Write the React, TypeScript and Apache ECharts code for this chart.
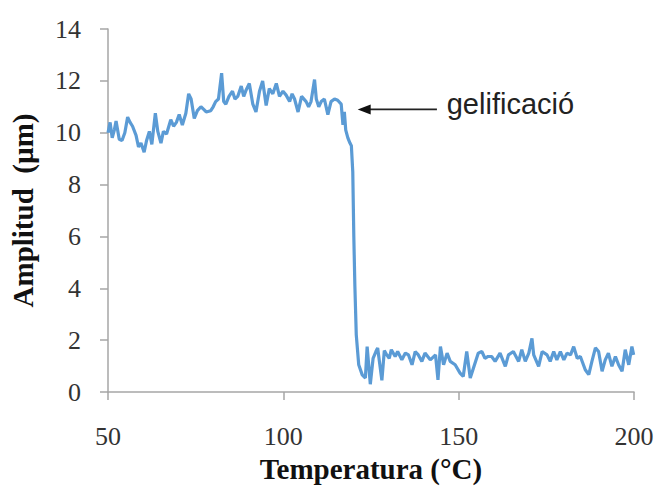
import React, { useEffect, useRef } from "react";
import * as echarts from "echarts";

// Rheometer sweep: oscillation amplitude versus temperature
const temperature = [
  50.0, 50.6, 51.2, 51.8, 52.3, 53.2, 54.0, 54.8, 55.6, 56.3, 57.0, 58.0, 58.7, 59.4, 60.3, 61.0,
  61.8, 62.5, 63.5, 64.2, 65.1, 65.8, 66.7, 67.9, 68.7, 69.5, 70.3, 71.2, 72.2, 73.0, 73.7, 74.6,
  75.5, 76.5, 77.3, 78.0, 79.3, 80.0, 80.7, 81.5, 82.4, 83.0, 83.6, 84.5, 85.5, 86.2, 87.0, 88.0,
  88.7, 89.4, 90.3, 91.3, 92.2, 93.2, 94.1, 95.1, 96.0, 97.0, 98.0, 98.9, 99.9, 100.8, 101.8, 102.5,
  103.2, 104.2, 105.2, 106.5, 107.2, 107.9, 108.9, 109.4, 110.1, 110.8, 111.7, 112.7, 113.6, 114.6,
  115.5, 116.5, 117.0, 117.4, 117.8, 118.4, 119.0, 119.4, 119.8, 120.1, 120.4, 120.8, 121.5, 122.5,
  123.4, 123.9, 124.8, 125.6, 126.4, 126.9, 128.1, 128.8, 129.5, 130.2, 130.8, 131.9, 132.6, 133.8,
  134.8, 135.7, 136.7, 137.6, 138.5, 139.5, 140.4, 141.9, 143.4, 144.1, 144.8, 145.7, 146.7, 147.6,
  149.0, 150.4, 151.3, 152.3, 153.3, 154.2, 155.6, 156.6, 157.5, 158.4, 159.4, 160.4, 161.8, 163.3,
  164.2, 165.6, 167.1, 168.0, 169.0, 170.0, 170.9, 171.4, 172.8, 173.8, 175.2, 176.1, 177.1, 178.0,
  179.0, 180.0, 180.9, 181.9, 182.8, 183.8, 184.7, 186.1, 187.1, 188.0, 189.0, 189.9, 190.9, 191.8,
  192.7, 193.7, 194.7, 195.6, 196.6, 197.5, 198.5, 199.4, 199.9,
];

const amplitude = [
  10.0, 10.4, 9.8, 10.1, 10.45, 9.75, 9.7, 10.0, 10.6, 10.4, 10.25, 9.9, 9.45, 9.6, 9.25, 9.7,
  10.05, 9.55, 10.75, 10.05, 9.6, 10.05, 9.95, 10.5, 10.25, 10.4, 10.7, 10.3, 10.75, 11.5, 11.3, 10.55,
  10.85, 11.0, 10.9, 10.8, 10.85, 11.0, 11.2, 11.3, 12.3, 11.2, 11.1, 11.4, 11.6, 11.3, 11.4, 11.8,
  11.4, 11.65, 11.9, 11.1, 10.8, 11.6, 12.0, 11.05, 11.7, 11.5, 11.9, 11.4, 11.6, 11.45, 11.2, 11.5,
  11.3, 10.8, 11.4, 11.2, 11.0, 11.2, 12.05, 11.3, 11.0, 11.2, 11.3, 10.7, 11.2, 11.3,
  11.25, 11.1, 10.3, 10.8, 10.1, 9.8, 9.6, 9.5, 8.5, 6.0, 4.1, 2.2, 1.05, 0.66,
  0.54, 1.75, 0.3, 1.3, 1.56, 1.7, 0.45, 1.6, 1.43, 1.3, 1.63, 1.37, 1.56, 1.24,
  1.5, 1.43, 1.05, 1.56, 1.43, 1.18, 1.5, 1.24, 1.43, 0.47, 1.75, 1.05, 1.5, 1.18,
  1.05, 0.73, 0.6, 1.56, 0.54, 0.92, 1.5, 1.56, 1.3, 1.37, 1.37, 1.18, 1.5, 0.99,
  1.43, 1.56, 1.18, 1.63, 1.18, 1.5, 2.07, 1.43, 0.99, 1.56, 1.43, 1.18, 1.56, 1.24,
  1.56, 1.24, 1.5, 1.43, 1.75, 1.3, 1.37, 0.86, 0.67, 1.18, 1.7, 1.56, 0.8, 1.24,
  1.5, 0.99, 1.37, 1.05, 0.8, 1.63, 1.05, 1.75, 1.43,
];

const xTickValues = [50, 100, 150, 200];
const yTickValues = [0, 2, 4, 6, 8, 10, 12, 14];

const xAxisTitle = "Temperatura (°C)";
const yAxisTitle = "Amplitud  (µm)";

// Gelation callout: arrow tip, arrow tail and label anchor in data units
const calloutText = "gelificació";
const calloutTip = [121.2, 10.9];
const calloutTail = [143.8, 10.9];
const calloutLabelAt = [146.6, 10.9];

const serif = '"Liberation Serif", "Times New Roman", serif';
const sans = '"Liberation Sans", Arial, sans-serif';

export default function App() {
  const ref = useRef<HTMLDivElement>(null);

  useEffect(() => {
    if (!ref.current) return;
    const chart = echarts.init(ref.current, undefined, { renderer: "svg" });

    const axisLineStyle = { color: "#a6a6a6", width: 1.5 };
    const tickLabel = { fontFamily: serif, fontSize: 26, color: "#333333" };
    const titleStyle = { fontFamily: serif, fontSize: 29, fontWeight: "bold" as const, color: "#111" };

    chart.setOption({
      animation: false,
      backgroundColor: "#ffffff",
      grid: { left: 107, right: 25, top: 29, bottom: 94 },
      xAxis: {
        type: "value",
        min: xTickValues[0],
        max: xTickValues[xTickValues.length - 1],
        interval: xTickValues[1] - xTickValues[0],
        splitLine: { show: false },
        axisLine: { show: true, lineStyle: axisLineStyle },
        axisTick: { show: true, length: 8, lineStyle: axisLineStyle },
        axisLabel: { ...tickLabel, margin: 31 },
        name: xAxisTitle,
        nameLocation: "middle",
        nameGap: 62,
        nameTextStyle: titleStyle,
      },
      yAxis: {
        type: "value",
        min: yTickValues[0],
        max: yTickValues[yTickValues.length - 1],
        interval: yTickValues[1] - yTickValues[0],
        splitLine: { show: false },
        axisLine: { show: true, lineStyle: axisLineStyle },
        axisTick: { show: true, length: 8, lineStyle: axisLineStyle },
        axisLabel: { ...tickLabel, margin: 27 },
        name: yAxisTitle,
        nameLocation: "middle",
        nameGap: 71,
        nameRotate: 90,
        nameTextStyle: titleStyle,
      },
      series: [
        {
          type: "line",
          data: temperature.map((t, i) => [t, amplitude[i]]),
          showSymbol: false,
          symbol: "none",
          lineStyle: { color: "#5b9bd5", width: 3.2 },
        },
      ],
    });

    const tip = chart.convertToPixel({ gridIndex: 0 }, calloutTip) as number[];
    const tail = chart.convertToPixel({ gridIndex: 0 }, calloutTail) as number[];
    const label = chart.convertToPixel({ gridIndex: 0 }, calloutLabelAt) as number[];

    chart.setOption({
      graphic: [
        {
          type: "line",
          shape: { x1: tip[0] + 10, y1: tip[1], x2: tail[0], y2: tail[1] },
          style: { stroke: "#222", lineWidth: 1.6 },
        },
        {
          type: "polygon",
          shape: {
            points: [
              [tip[0], tip[1]],
              [tip[0] + 13, tip[1] - 5],
              [tip[0] + 13, tip[1] + 5],
            ],
          },
          style: { fill: "#111" },
        },
        {
          type: "text",
          x: label[0],
          y: label[1] - 5,
          style: {
            text: calloutText,
            font: `29px ${sans}`,
            fill: "#222",
            verticalAlign: "middle",
            align: "left",
          },
        },
      ],
    });

    return () => chart.dispose();
  }, []);

  return (
    <div
      ref={ref}
      style={{ position: "absolute", left: 0, top: 0, width: 659, height: 488 }}
    />
  );
}
